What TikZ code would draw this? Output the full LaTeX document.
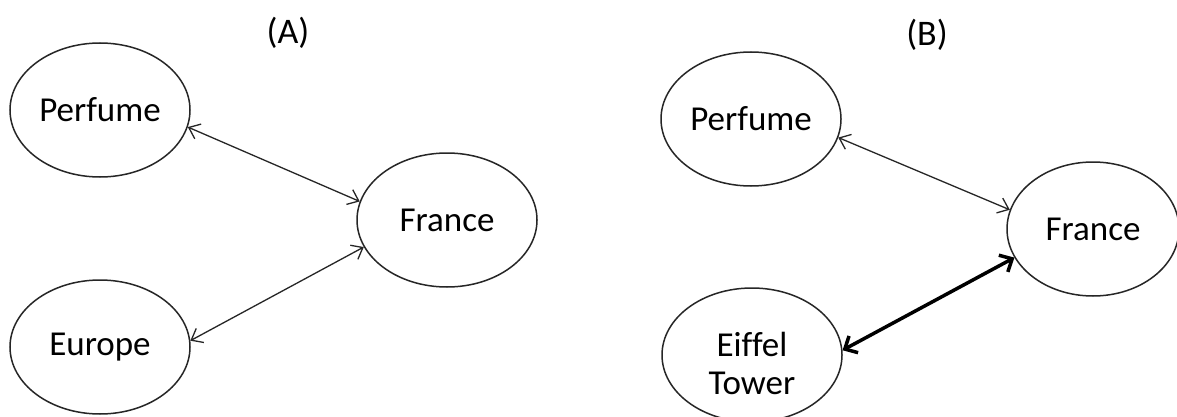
\documentclass[tikz,border=0pt]{standalone}
\usepackage{fontspec}
\setmainfont[Ligatures=NoCommon]{Carlito}
\usetikzlibrary{shapes.geometric,arrows.meta}
\begin{document}
\begin{tikzpicture}[x=1pt,y=-1pt,
  concept/.style={ellipse,draw=black!85,line width=1.5pt,inner sep=0pt,
    minimum width=180pt,minimum height=134pt,align=center,
    font=\fontsize{35}{39}\selectfont},
  paneltitle/.style={font=\fontsize{36}{40}\selectfont},
  thinlink/.style={draw=black!85,line width=1.3pt,
    {Straight Barb[length=10pt,width=16pt]}-{Straight Barb[length=10pt,width=16pt]}},
  thicklink/.style={draw=black,line width=3.5pt,
    {Straight Barb[length=10pt,width=19pt,line width=3.5pt]}-{Straight Barb[length=10pt,width=19pt,line width=3.5pt]}}]
\useasboundingbox (0,0) rectangle (1177,417);
\fill[white] (0,0) rectangle (1177,417);
% Panel A
\node[paneltitle] (ta) at (288,33) {(A)};
\node[concept] (pa) at (100,110) {Perfume};
\node[concept] (fa) at (447,220) {France};
\node[concept] (ea) at (100,347) {Europe};
\draw[thinlink] (pa.-11) -- (fa.168);
\draw[thinlink] (ea.4) -- (fa.198);
% Panel B
\node[paneltitle] (tb) at (927,35) {(B)};
\node[concept] (pb) at (751,119) {Perfume};
\node[concept,minimum width=172pt] (fb) at (1093,229) {France};
\node[concept] (eb) at (752,355) {\raisebox{-13pt}[\height][\depth]{\begin{tabular}{@{}c@{}}Eiffel\\[-1pt]Tower\end{tabular}}};
\draw[thinlink] (pb.-12) -- (fb.167);
\draw[thicklink] (eb.3) -- (fb.200);
\end{tikzpicture}
\end{document}
